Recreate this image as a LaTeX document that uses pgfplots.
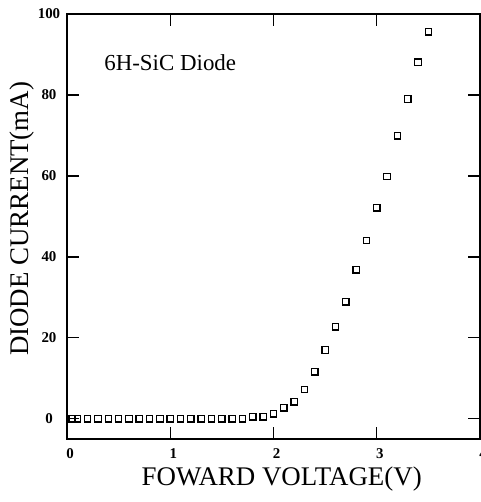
\documentclass[border=0pt]{standalone}
\usepackage{pgfplots}
\pgfplotsset{compat=1.18}
\usetikzlibrary{calc}
\usepackage{fontspec}
\setmainfont{Liberation Serif}

\begin{document}
\begin{tikzpicture}
\begin{axis}[
  name=ax,
  scale only axis,
  width=413bp, height=425bp,
  xmin=0, xmax=4,
  ymin=-5, ymax=100,
  xtick={0,1,2,3,4},
  ytick={0,20,40,60,80,100},
  tick align=inside,
  major tick length=12bp,
  axis line style={line width=1.3pt},
  every tick/.style={line width=1.3pt, black},
  /pgf/number format/assume math mode=true,
  tick label style={font=\fontsize{15}{17}\selectfont\bfseries, inner sep=0.5bp},
  xticklabel style={anchor=center, yshift=-15bp, xshift=3bp},
  yticklabel style={anchor=center, xshift=-18bp},
  xlabel={FOWARD VOLTAGE(V)},
  ylabel={DIODE CURRENT(mA)},
  label style={font=\fontsize{27}{30}\selectfont, inner sep=0.5bp},
  xlabel style={at={(axis description cs:0.52,0)}, anchor=center, yshift=-40bp},
  ylabel style={at={(axis description cs:0,0.518)}, anchor=center, yshift=45bp},
]
\addplot[only marks, mark=square, mark size=3.2pt, mark options={line width=1.2pt, black}] coordinates {
  (0.05,0) (0.1,0) (0.2,0) (0.3,0) (0.4,0) (0.5,0) (0.6,0) (0.7,0) (0.8,0)
  (0.9,0) (1.0,0) (1.1,0) (1.2,0) (1.3,0) (1.4,0) (1.5,0) (1.6,0) (1.7,0)
  (1.8,0.5) (1.9,0.5) (2.0,1.2) (2.1,2.7) (2.2,4.2) (2.3,7.2) (2.4,11.6)
  (2.5,17.0) (2.6,22.7) (2.7,28.9) (2.8,36.8) (2.9,44.0) (3.0,52.1)
  (3.1,59.8) (3.2,69.9) (3.3,79.0) (3.4,88.1) (3.5,95.6)
};
\node[anchor=west, inner sep=0pt, font=\fontsize{23}{26}\selectfont] at (axis cs:0.36,88.1) {6H-SiC Diode};
\end{axis}
\pgfresetboundingbox
\path ($(ax.south west)+(-67bp,-63bp)$) rectangle ($(ax.north east)+(1bp,14bp)$);
\end{tikzpicture}
\end{document}
